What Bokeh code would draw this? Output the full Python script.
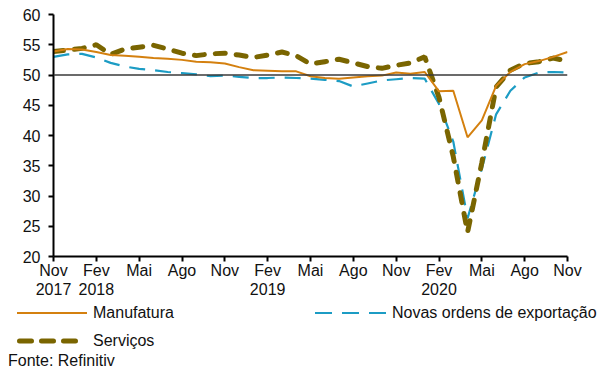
from bokeh.plotting import figure
from bokeh.layouts import column
from bokeh.models import Range1d, FixedTicker, Span, ColumnDataSource, Div
from bokeh.embed import file_html
from bokeh.resources import INLINE

# Monthly PMI readings, Nov 2017 .. Nov 2020 (37 months)
manufatura = [53.9, 54.3, 54.2, 53.8, 53.3, 53.2, 53.0, 52.8, 52.7, 52.5, 52.2, 52.1,
              51.9, 51.3, 50.8, 50.7, 50.6, 50.6, 49.8, 49.5, 49.4, 49.6, 49.8, 49.9,
              50.4, 50.2, 50.5, 47.3, 47.4, 39.7, 42.5, 48.2, 50.5, 51.8, 52.3, 53.0,
              53.8]
novas_ordens = [53.0, 53.4, 53.5, 52.9, 52.0, 51.4, 51.0, 50.8, 50.5, 50.3, 50.1, 49.8,
                49.9, 49.7, 49.5, 49.5, 49.6, 49.5, 49.4, 49.2, 49.0, 48.1, 48.6, 49.1,
                49.3, 49.5, 49.4, 45.2, 39.0, 26.3, 34.5, 43.5, 47.4, 49.6, 50.4, 50.5,
                50.4]
servicos = [53.9, 54.1, 54.4, 55.0, 53.4, 54.3, 54.6, 54.9, 54.3, 53.6, 53.2, 53.5,
            53.6, 53.3, 52.9, 53.3, 53.8, 53.2, 51.8, 52.2, 52.6, 52.0, 51.4, 51.1,
            51.6, 52.0, 53.0, 46.3, 36.5, 24.0, 35.5, 48.0, 50.8, 51.9, 52.2, 52.8,
            52.3]

# Axis tick labels: every third month, with the year under the first tick of each year
tick_months = ["Nov", "Fev", "Mai", "Ago", "Nov", "Fev", "Mai", "Ago", "Nov", "Fev", "Mai", "Ago", "Nov"]
tick_years = ["2017", "2018", "", "", "", "2019", "", "", "", "2020", "", "", ""]
y_ticks = [20, 25, 30, 35, 40, 45, 50, 55, 60]

series_names = ["Manufatura", "Novas ordens de exportação", "Serviços"]
source_note = "Fonte: Refinitiv"

idx = list(range(len(manufatura)))
src = ColumnDataSource(dict(x=idx, manu=manufatura, novas=novas_ordens, serv=servicos))

FONT = "Liberation Sans"
FONT_SIZE = "16px"
TEXT = "#111111"
ORANGE = "#D4800F"
BLUE = "#1C9CC4"
OLIVE = "#7A6500"

# ---- chart ----
p = figure(width=597, height=302, output_backend="svg", toolbar_location=None,
           x_range=Range1d(0, 36), y_range=Range1d(20, 60))
p.min_border_left = 53
p.min_border_right = 30
p.min_border_top = 14
p.min_border_bottom = 46
p.outline_line_color = None
p.xgrid.visible = False
p.ygrid.visible = False

# reference line at 50
p.add_layout(Span(location=50, dimension="width", line_color="#3a3a3a", line_width=1.6))

p.line("x", "novas", source=src, line_color=BLUE, line_width=2.2, line_dash="16 10")
p.line("x", "serv", source=src, line_color=OLIVE, line_width=5, line_dash="10 11",
       line_cap="round")
p.line("x", "manu", source=src, line_color=ORANGE, line_width=2)

tick_pos = list(range(0, 37, 3))
p.xaxis.ticker = FixedTicker(ticks=tick_pos)
p.xaxis.major_label_overrides = {
    t: (m + "\n" + y if y else m) for t, m, y in zip(tick_pos, tick_months, tick_years)
}
p.xaxis.major_label_standoff = 0
p.xaxis.major_label_text_line_height = 1.12
p.xaxis.major_label_orientation = "horizontal"

p.yaxis.ticker = FixedTicker(ticks=y_ticks)
p.yaxis.major_label_standoff = 8

for ax in (p.xaxis, p.yaxis):
    ax.axis_line_color = "black"
    ax.axis_line_width = 2
    ax.major_tick_line_color = "black"
    ax.major_tick_line_width = 2
    ax.major_tick_in = 0
    ax.major_tick_out = 5
    ax.minor_tick_line_color = None
    ax.major_label_text_font = FONT
    ax.major_label_text_font_size = FONT_SIZE
    ax.major_label_text_color = TEXT


# ---- key and source line ----
def key_sample(left, top, color, width, dash="", cap="butt", length=70):
    x0 = width / 2 if cap == "round" else 0
    x1 = length - x0
    dash_attr = f' stroke-dasharray="{dash}"' if dash else ""
    return (f'<svg style="position:absolute;left:{left}px;top:{top}px" width="{length}" '
            f'height="16"><line x1="{x0}" y1="8" x2="{x1}" y2="8" stroke="{color}" '
            f'stroke-width="{width}" stroke-linecap="{cap}"{dash_attr}/></svg>')


def key_text(left, top, text):
    return (f'<span style="position:absolute;left:{left}px;top:{top}px;'
            f'line-height:18px;white-space:nowrap">{text}</span>')


html = (
    f'<div style="position:relative;width:597px;height:71px;font-family:\'{FONT}\';'
    f'font-size:{FONT_SIZE};color:{TEXT}">'
    + key_sample(17, 3, ORANGE, 2)
    + key_text(93, 2, series_names[0])
    + key_sample(315, 3, BLUE, 2.2, dash="17 10", length=72)
    + key_text(392, 2, series_names[1])
    + key_sample(17, 31, OLIVE, 5, dash="12 10", cap="round")
    + key_text(93, 30, series_names[2])
    + key_text(8, 50, source_note)
    + '</div>'
)
foot = Div(text=html, width=597, height=71, margin=0)

layout = column(p, foot, spacing=0)
open("out.html", "w").write(file_html(layout, INLINE))
